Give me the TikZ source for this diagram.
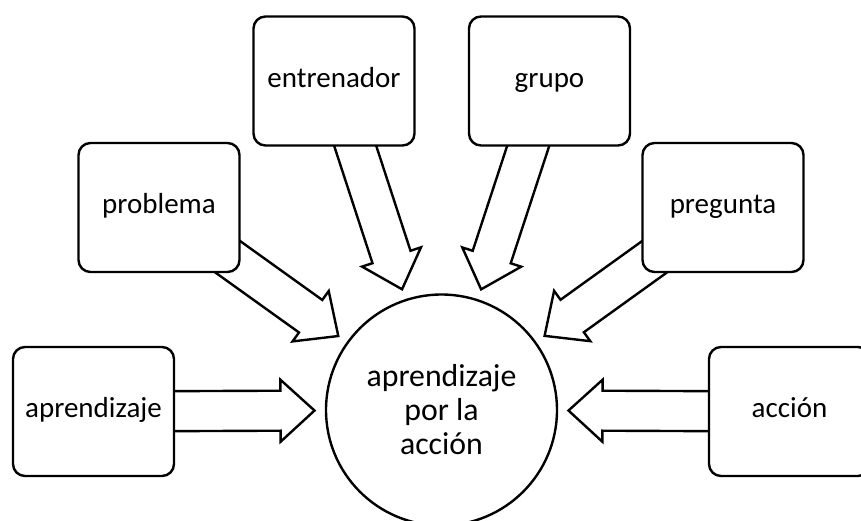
\documentclass[tikz,border=0pt]{standalone}
\usepackage{fontspec}
\setmainfont{Carlito}
\usetikzlibrary{calc, backgrounds}
\tikzset{
    topic/.style={draw=black, line width=2.4pt, fill=white, rounded corners=12pt, minimum width=161pt, minimum height=129pt, inner sep=0pt, font=\fontsize{29}{34}\selectfont, text height=21pt, text depth=9pt},
    hub/.style={circle, draw=black, line width=2.4pt, fill=white, minimum size=231pt, inner sep=0pt, align=center, font=\fontsize{31.8}{34}\selectfont},
    fatarrow/.style={draw=black, line width=2.4pt, fill=white, line join=miter}
}
\newcommand{\fatarrow}[2]{%
    \path ($(#2)!127pt!(#1)$) coordinate (tip)
          ($(#2)!161pt!(#1)$) coordinate (neck);
    \draw[fatarrow] (tip) -- ($(neck)!31pt!90:(tip)$) -- ($(neck)!20pt!90:(tip)$)
        -- ($(#1)!20pt!90:(tip)$) -- ($(#1)!20pt!-90:(tip)$)
        -- ($(neck)!20pt!-90:(tip)$) -- ($(neck)!31pt!-90:(tip)$) -- cycle;
}

\begin{document}
\begin{tikzpicture}[x=1pt, y=-1pt]
    \useasboundingbox (0,0) rectangle (861,520);
    \clip (0,0) rectangle (861,520);
    \node[hub] (apl) at (441.5,410) {aprendizaje\\por la\\acción};
    \node[topic] (aprendizaje) at (93.5,411.5) {aprendizaje};
    \node[topic] (problema) at (159,207.5) {problema};
    \node[topic] (entrenador) at (334,81) {entrenador};
    \node[topic] (grupo) at (549.5,81) {grupo};
    \node[topic] (pregunta) at (723,207.5) {pregunta};
    \node[topic] (accion) at (789.5,411.5) {acción};
    \begin{scope}[on background layer]
        \foreach \src in {aprendizaje, problema, entrenador, grupo, pregunta, accion}
            \fatarrow{\src}{apl};
    \end{scope}
\end{tikzpicture}
\end{document}
